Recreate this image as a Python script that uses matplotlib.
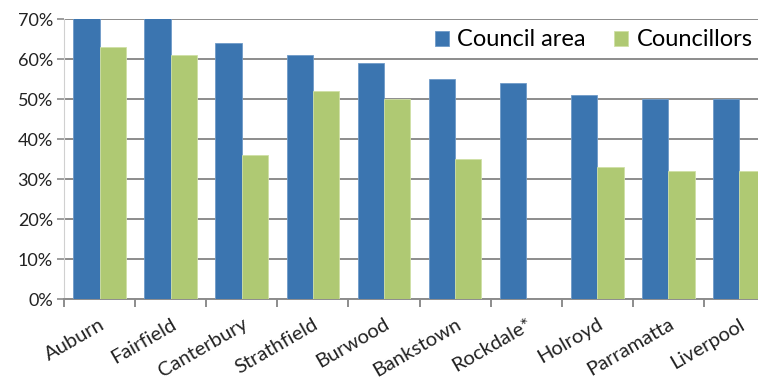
import matplotlib.pyplot as plt
import numpy as np

councils = ['Auburn', 'Fairfield', 'Canterbury', 'Strathfield', 'Burwood',
            'Bankstown', 'Rockdale*', 'Holroyd', 'Parramatta', 'Liverpool']
council_area = [72, 71, 64, 61, 59, 55, 54, 51, 50, 50]
councillors = [63, 61, 36, 52, 50, 35, np.nan, 33, 32, 32]
yticks = [0, 10, 20, 30, 40, 50, 60, 70]

blue = '#3b75b0'
green = '#afc973'
grid = '#8c8c8c'

plt.rcParams['font.family'] = ['Lato', 'DejaVu Sans']

fig = plt.figure(figsize=(7.58, 3.8), dpi=100)
# plot area runs past the right edge, so the last bar is cut off
ax = fig.add_axes([64 / 758, 81 / 380, 711 / 758, 280 / 380])

x = np.arange(len(councils))
w = 0.37
ax.bar(x - w / 2, council_area, w, color=blue, edgecolor='#6f9bc8', linewidth=0.6,
       label='Council area', zorder=3)
ax.bar(x + w / 2, councillors, w, color=green, edgecolor='#cfe0a6', linewidth=0.6,
       label='Councillors', zorder=3)

ax.set_xlim(-0.5, len(councils) - 0.5)
ax.set_ylim(0, 70)
ax.set_yticks(yticks)
ax.set_yticklabels(['{}%'.format(t) for t in yticks], fontsize=13, color='#222222')
ax.yaxis.grid(True, color=grid, linewidth=1.4, zorder=0)
ax.tick_params(axis='y', length=5, color=grid, width=1.2, pad=3)

ax.set_xticks(x)
ax.set_xticklabels(councils, rotation=30, ha='right', rotation_mode='anchor',
                   fontsize=14.5, color='#222222')
ax.tick_params(axis='x', length=0, pad=12)
ax.set_xticks(np.arange(len(councils) + 1) - 0.5, minor=True)
ax.tick_params(axis='x', which='minor', length=6, color=grid, width=1.4)

for side in ['top', 'right']:
    ax.spines[side].set_visible(False)
ax.spines['left'].set_color('#d0d0d0')
ax.spines['bottom'].set_color(grid)
ax.spines['bottom'].set_linewidth(1.4)

fig.legend(loc='center left', bbox_to_anchor=(435 / 758, 1 - 40 / 380), ncol=2,
           frameon=False, fontsize=17, handlelength=0.6, handleheight=0.6,
           handletextpad=0.35, columnspacing=1.2, borderaxespad=0, borderpad=0)

fig.savefig('out.png', dpi=100)
